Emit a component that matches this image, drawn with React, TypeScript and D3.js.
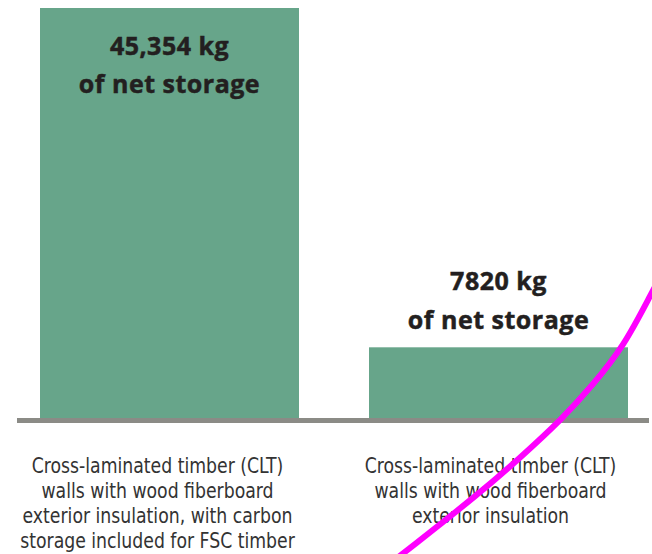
import React from "react";
import * as d3 from "d3";

const categories = ["CLT with FSC carbon storage", "CLT"];
const values = [45354, 7820];
const valueLabels = ["45,354 kg", "7820 kg"];
const valueSubLabel = "of net storage";
const categoryLines = [
  [
    "Cross-laminated timber (CLT)",
    "walls with wood fiberboard",
    "exterior insulation, with carbon",
    "storage included for FSC timber",
  ],
  [
    "Cross-laminated timber (CLT)",
    "walls with wood fiberboard",
    "exterior insulation",
  ],
];
// hand-drawn highlight stroke over the second bar (annotation)
const annotationPath: [number, number][] = [
  [668, 262],
  [650, 296],
  [624, 346],
  [592, 386],
  [561, 420],
  [522, 456],
  [480, 493],
  [405, 552],
  [392, 562],
];

const W = 652;
const H = 554;
const baseY = 418;
const topY = 8;

export default function App() {
  const x = d3
    .scaleBand<string>()
    .domain(categories)
    .range([40, 628])
    .paddingInner(0.2128)
    .paddingOuter(0);
  const y = d3
    .scaleLinear()
    .domain([0, d3.max(values) as number])
    .range([baseY, topY]);

  const line = d3.line().curve(d3.curveBasis);
  const labelShift = [-12, -8];

  const valueTextProps = {
    textAnchor: "middle" as const,
    fontFamily: "'Open Sans', sans-serif",
    fontWeight: 700,
    fontSize: 25,
    letterSpacing: 0.5,
    fill: "#231f20",
    stroke: "#231f20",
    strokeWidth: 0.5,
  };

  return (
    <svg
      width={W}
      height={H}
      style={{ position: "absolute", left: 0, top: 0, background: "#fff" }}
    >
      {categories.map((c, i) => {
        const bx = x(c) as number;
        const bw = x.bandwidth();
        const by = y(values[i]);
        const cx = bx + bw / 2;
        const inside = by - 57 < 20;
        const l1 = inside ? by + 47 : by - 57;
        const l2 = inside ? by + 85 : by - 18;
        return (
          <g key={c}>
            <rect x={bx} y={by} width={bw} height={baseY - by} fill="#67a58a" />
            <text x={cx} y={l1} {...valueTextProps}>
              {valueLabels[i]}
            </text>
            <text x={cx} y={l2} {...valueTextProps}>
              {valueSubLabel}
            </text>
            <g transform={`translate(${cx + labelShift[i]},0) scale(0.915,1)`}>
              {categoryLines[i].map((t, j) => (
                <text
                  key={j}
                  x={0}
                  y={473 + j * 25}
                  textAnchor="middle"
                  fontFamily="'Liberation Sans Narrow', 'DejaVu Sans Condensed', sans-serif"
                  fontSize={21}
                  fill="#333333"
                >
                  {t}
                </text>
              ))}
            </g>
          </g>
        );
      })}
      <line x1={17} x2={649} y1={baseY + 2.5} y2={baseY + 2.5} stroke="#8b8b86" strokeWidth={5} />
      <path
        d={line(annotationPath) as string}
        fill="none"
        stroke="#ff00ff"
        strokeWidth={6}
        strokeLinecap="round"
      />
    </svg>
  );
}
